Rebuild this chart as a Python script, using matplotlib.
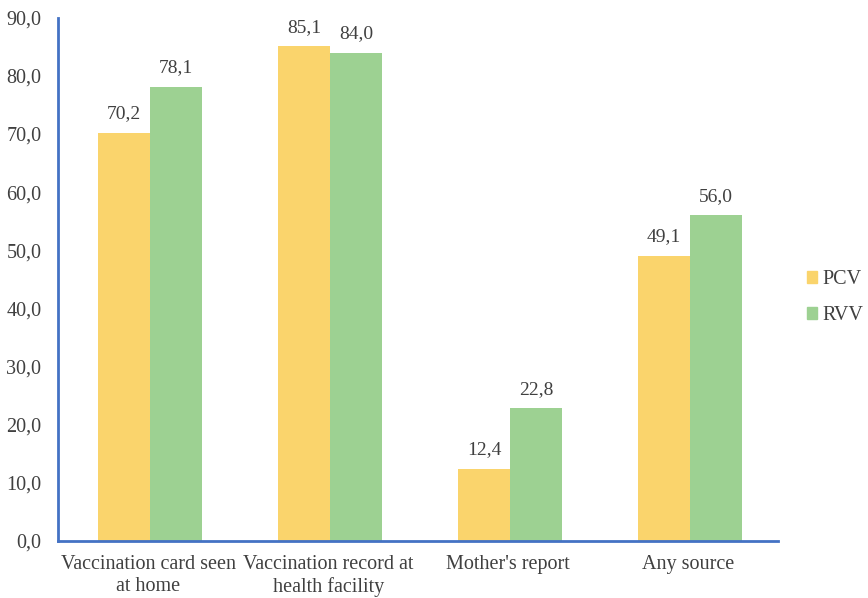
import numpy as np
import matplotlib.pyplot as plt
from matplotlib.patches import Patch

categories = ["Vaccination card seen\nat home", "Vaccination record at\nhealth facility",
              "Mother's report", "Any source"]
pcv = [70.2, 85.1, 12.4, 49.1]
rvv = [78.1, 84.0, 22.8, 56.0]
y_ticks = [0, 10, 20, 30, 40, 50, 60, 70, 80, 90]

plt.rcParams['font.family'] = ['Liberation Serif', 'DejaVu Serif']
text_col = "#404040"
axis_col = "#4472C4"
pcv_col = "#FAD46C"
rvv_col = "#9DD192"

fig = plt.figure(figsize=(8.68, 5.98), dpi=100)
ax = fig.add_axes([0.0668, 0.0953, 0.83, 0.875])

x = np.arange(len(categories))
w = 0.29
ax.bar(x - w / 2 + 0.01, pcv, w, color=pcv_col)
ax.bar(x + w / 2 + 0.01, rvv, w, color=rvv_col)

for xi, v in zip(x - w / 2 + 0.01, pcv):
    ax.text(xi, v + 1.8, f"{v:.1f}".replace(".", ","), ha="center", va="bottom",
            fontsize=14, color=text_col)
for xi, v in zip(x + w / 2 + 0.01, rvv):
    ax.text(xi, v + 1.8, f"{v:.1f}".replace(".", ","), ha="center", va="bottom",
            fontsize=14, color=text_col)

ax.set_xlim(-0.5, 3.5)
ax.set_ylim(0, 90)
ax.set_yticks(y_ticks)
ax.set_yticklabels([f"{t:.1f}".replace(".", ",") for t in y_ticks])
ax.set_xticks(x)
ax.set_xticklabels(categories, linespacing=1.22)
ax.tick_params(axis="both", length=0, labelsize=14.5, colors=text_col)
ax.tick_params(axis="y", pad=12)
ax.tick_params(axis="x", pad=10)

for s in ["top", "right"]:
    ax.spines[s].set_visible(False)
for s in ["left", "bottom"]:
    ax.spines[s].set_color(axis_col)
    ax.spines[s].set_linewidth(2)

handles = [Patch(color=pcv_col), Patch(color=rvv_col)]
leg = fig.legend(handles, ["PCV", "RVV"], loc="center left", bbox_to_anchor=(0.925, 0.502),
                 frameon=False, fontsize=14.5, handlelength=0.5, handleheight=0.5,
                 handletextpad=0.25, labelspacing=0.85, labelcolor=text_col,
                 borderaxespad=0, borderpad=0.2)

fig.savefig("out.png", dpi=100)
